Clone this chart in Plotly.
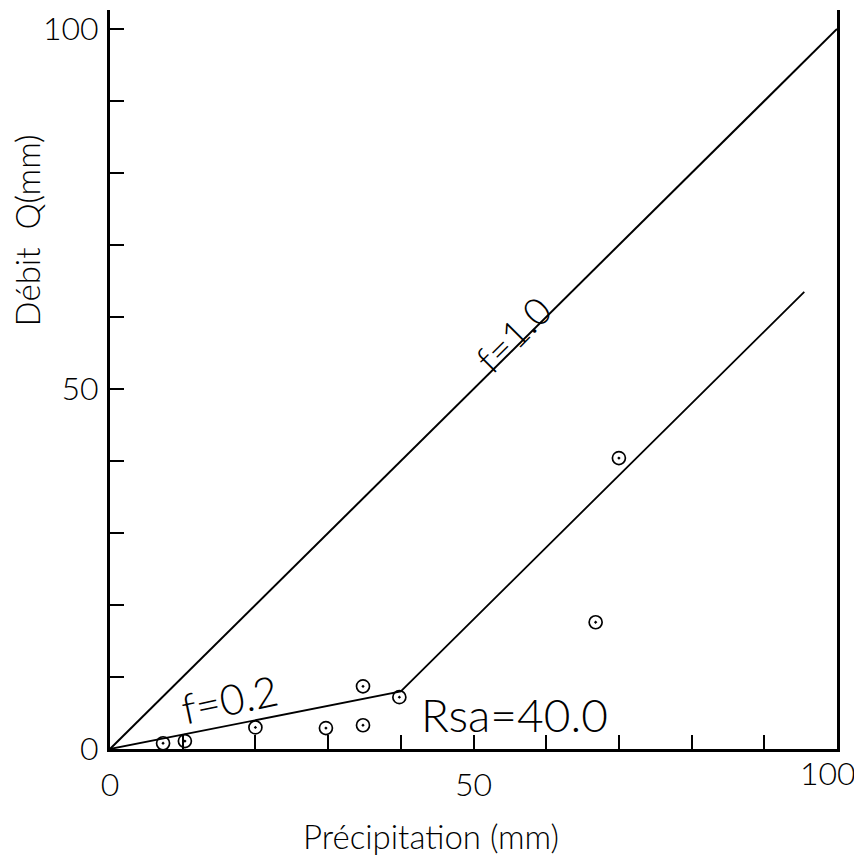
import plotly.graph_objects as go

# Observed data points (precipitation P, runoff Q), both in mm
precip = [7.3, 10.3, 20.0, 29.7, 34.8, 34.8, 39.8, 66.8, 70.0]
debit = [0.8, 1.1, 3.0, 2.9, 8.7, 3.3, 7.2, 17.6, 40.4]

# f = 1.0 reference line
line_f1_x = [0, 100]
line_f1_y = [0, 100]

# f = 0.2 segment then slope-1 segment after Rsa = 40.0
line_model_x = [0, 40, 95.5]
line_model_y = [0, 8, 63.5]

tick_vals = [0, 10, 20, 30, 40, 50, 60, 70, 80, 90, 100]
x_tick_text = ["0", "", "", "", "", "50", "", "", "", "", ""]
y_tick_text = ["0", "", "", "", "", "50", "", "", "", "", "100"]
x_last_label = "100"

FONT = "Lato"
OFF = 8  # default body margin of the html page

W, H = 854, 848
ML, MT = 110 - OFF, 0
pw = 727
ph = 741
MR = W - ML - pw
MB = H - MT - ph

fig = go.Figure()

fig.add_trace(go.Scatter(x=line_f1_x, y=line_f1_y, mode="lines",
                         line=dict(color="black", width=2), hoverinfo="skip"))
fig.add_trace(go.Scatter(x=line_model_x, y=line_model_y, mode="lines",
                         line=dict(color="black", width=1.8), hoverinfo="skip"))
fig.add_trace(go.Scatter(x=precip, y=debit, mode="markers",
                         marker=dict(symbol="circle-open-dot", size=13, color="black",
                                     line=dict(color="black", width=1.7))))

axis_common = dict(
    tickmode="array", tickvals=tick_vals,
    ticks="inside", ticklen=14, tickwidth=2, tickcolor="black",
    showline=True, linecolor="black", linewidth=3,
    showgrid=False, zeroline=False, ticklabeloverflow="allow",
    tickfont=dict(family=FONT, size=32, color="black", weight=300),
)

fig.update_xaxes(range=[0, 100], ticktext=x_tick_text, ticklabelstandoff=6, **axis_common)
fig.update_yaxes(range=[0, ph / 7.22], ticktext=y_tick_text, mirror=True,
                 ticklabelstandoff=2, **axis_common)

fig.add_annotation(x=55.4, y=57.6, xref="x", yref="y", text="f=1.0", showarrow=False,
                   textangle=-45, font=dict(family=FONT, size=38, color="black", weight=300))
fig.add_annotation(x=16.5, y=6.9, xref="x", yref="y", text="f=0.2", showarrow=False,
                   textangle=-12, font=dict(family=FONT, size=42, color="black", weight=300))
fig.add_annotation(x=55.7, y=4.85, xref="x", yref="y", text="Rsa=40.0", showarrow=False,
                   font=dict(family=FONT, size=46, color="black", weight=300))


def px_to_paper(px, py):
    # px, py: pixel position in the reference screenshot
    fx = px - OFF
    fy = py - OFF
    return (fx - ML) / pw, 1 - (fy - MT) / ph


tx, ty = px_to_paper(828, 773)
fig.add_annotation(x=tx, y=ty, xref="paper", yref="paper", text=x_last_label,
                   showarrow=False, xanchor="center", yanchor="middle",
                   font=dict(family=FONT, size=32, color="black", weight=300))
tx, ty = px_to_paper(431, 836)
fig.add_annotation(x=tx, y=ty, xref="paper", yref="paper", text="Précipitation (mm)",
                   showarrow=False, xanchor="center", yanchor="middle",
                   font=dict(family=FONT, size=33, color="black", weight=300))
tx, ty = px_to_paper(27, 229)
fig.add_annotation(x=tx, y=ty, xref="paper", yref="paper", text="Débit  Q(mm)",
                   showarrow=False, textangle=-90, xanchor="center", yanchor="middle",
                   font=dict(family=FONT, size=33, color="black", weight=300))

fig.update_layout(
    width=W, height=H,
    margin=dict(l=ML, r=MR, t=MT, b=MB),
    paper_bgcolor="white", plot_bgcolor="white",
    showlegend=False,
)

fig.write_html("out.html")
